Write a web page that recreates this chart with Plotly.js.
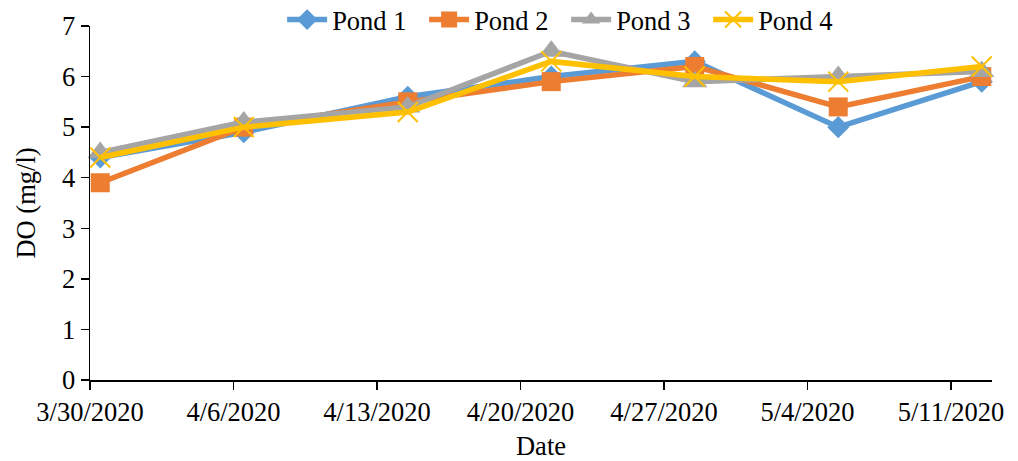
<!DOCTYPE html>
<html>
<head>
<meta charset="utf-8">
<script src="https://cdn.plot.ly/plotly-3.0.1.min.js"></script>
<style>html,body{margin:0;padding:0;background:#fff;}#chart{width:1018px;height:461px;}</style>
</head>
<body>
<div id="chart"></div>
<script>
// Sampling dates
const dates = ["2020-03-30", "2020-04-06", "2020-04-14", "2020-04-21", "2020-04-28", "2020-05-05", "2020-05-12"];
// Dissolved oxygen (mg/l)
const pond1 = [4.4, 4.9, 5.6, 6.0, 6.3, 5.0, 5.9];
const pond2 = [3.9, 5.0, 5.5, 5.9, 6.2, 5.4, 6.0];
const pond3 = [4.5, 5.1, 5.4, 6.5, 5.9, 6.0, 6.1];
const pond4 = [4.4, 5.0, 5.3, 6.3, 6.0, 5.9, 6.2];
const seriesNames = ["Pond 1", "Pond 2", "Pond 3", "Pond 4"];
const tickStart = "2020-03-30";
const axisEnd = "2020-05-13";

// Excel date axis places each point in the middle of its day band
const xs = dates.map(d => d + " 12:00");

const colors = ["#5B9BD5", "#ED7D31", "#A5A5A5", "#FFC000"];
const symbols = ["diamond", "square", "triangle-up", "x-thin"];
const sizes = [17, 19, 22, 20];
const allY = [pond1, pond2, pond3, pond4];

const traces = allY.map((y, i) => ({
  x: xs, y: y, name: seriesNames[i], type: "scatter", mode: "lines+markers",
  line: {color: colors[i], width: 5.5},
  marker: i === 3
    ? {symbol: symbols[i], size: sizes[i], color: colors[i], line: {color: colors[i], width: 2}}
    : {symbol: symbols[i], size: sizes[i], color: colors[i], line: {width: 0}},
  cliponaxis: false
}));

const font = {family: "Liberation Serif, Times New Roman, serif", size: 26.5, color: "#000"};

const layout = {
  width: 1018, height: 461,
  margin: {l: 90, r: 26, t: 26, b: 81, autoexpand: false},
  paper_bgcolor: "#fff", plot_bgcolor: "#fff",
  font: font,
  showlegend: true,
  legend: {orientation: "h", x: 0.213, xanchor: "left", yref: "container", y: 0.957, yanchor: "middle",
           font: font, entrywidth: 87, itemwidth: 40, bgcolor: "rgba(0,0,0,0)", traceorder: "normal"},
  xaxis: {
    type: "date", range: [tickStart, axisEnd], tick0: tickStart, dtick: 7 * 86400000,
    tickformat: "%-m/%-d/%Y", showgrid: false, zeroline: false,
    showline: true, linecolor: "#000", linewidth: 1.5,
    ticks: "outside", ticklen: 8, tickcolor: "#000", tickwidth: 1.5,
    tickfont: font, title: {text: "Date", font: font, standoff: 13}
  },
  yaxis: {
    range: [0, 7], dtick: 1, showgrid: false, zeroline: false,
    showline: true, linecolor: "#000", linewidth: 1.5,
    ticks: "outside", ticklen: 8, tickcolor: "#000", tickwidth: 1.5,
    tickfont: font, title: {text: "DO (mg/l)", font: font, standoff: 18}
  }
};

Plotly.newPlot("chart", traces, layout, {displayModeBar: false, staticPlot: true});
</script>
</body>
</html>
